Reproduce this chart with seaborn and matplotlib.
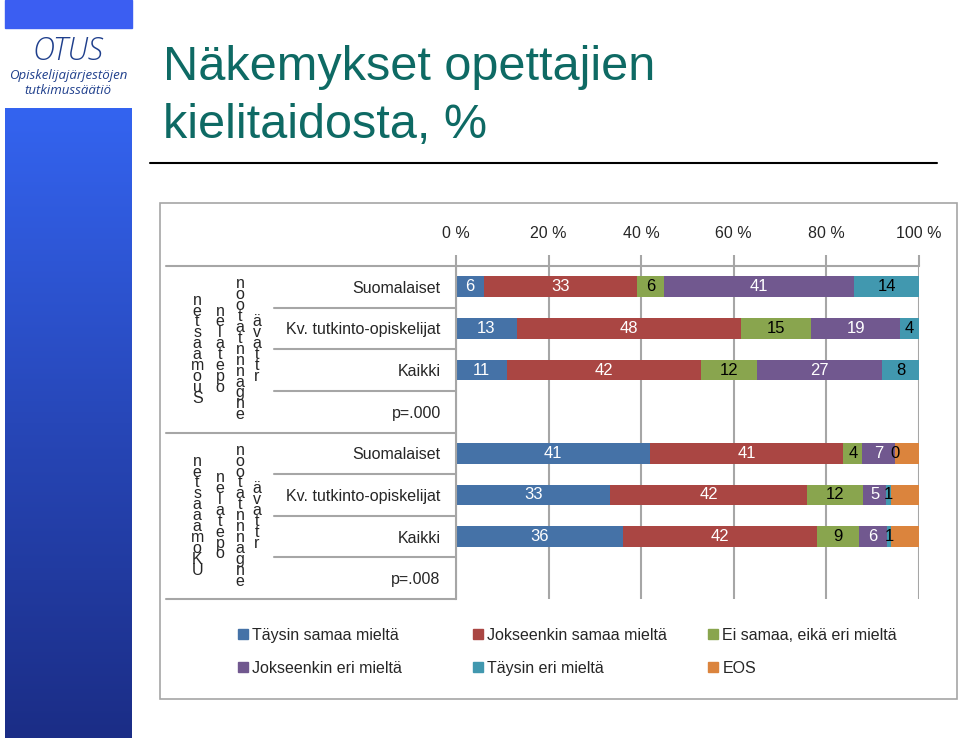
import numpy as np
import pandas as pd
import matplotlib.pyplot as plt
import matplotlib.patches as patches
from matplotlib.colors import LinearSegmentedColormap
import seaborn as sns

sns.set_theme(style="white")
plt.rcParams['font.family'] = ['Liberation Sans Narrow', 'Liberation Sans', 'DejaVu Sans']

# Data (prosentit luettu kuvasta)
rivit = ['Suomalaiset', 'Kv. tutkinto-opiskelijat', 'Kaikki', 'p=.000',
         'Suomalaiset', 'Kv. tutkinto-opiskelijat', 'Kaikki', 'p=.008']
vastaukset = ['Täysin samaa mieltä', 'Jokseenkin samaa mieltä', 'Ei samaa, eikä eri mieltä',
              'Jokseenkin eri mieltä', 'Täysin eri mieltä', 'EOS']
taysin_samaa = [6, 13, 11, 0, 41, 33, 36, 0]
jokseenkin_samaa = [33, 48, 42, 0, 41, 42, 42, 0]
ei_samaa_eika_eri = [6, 15, 12, 0, 4, 12, 9, 0]
jokseenkin_eri = [41, 19, 27, 0, 7, 5, 6, 0]
taysin_eri = [14, 4, 8, 0, 0, 1, 1, 0]
eos = [0, 0, 0, 0, 5, 6, 6, 0]
ryhmat = ['netsaamouS', 'netsaaamoKU']
ryhma_sarakkeet = ['nelatepo', 'nootatnnnagne', 'ävattr']
x_ticks = [0, 20, 40, 60, 80, 100]

varit = ['#4572A7', '#AA4643', '#89A54E', '#71588F', '#4198AF', '#DB843D']
tekstivarit = ['white', 'white', 'black', 'white', 'black', None]
harmaa = '#a6a6a6'

df = pd.DataFrame({'rivi': np.arange(len(rivit))})
sarjat = [taysin_samaa, jokseenkin_samaa, ei_samaa_eika_eri, jokseenkin_eri, taysin_eri, eos]
arvot = np.array(sarjat, dtype=float).T
summat = arvot.sum(axis=1, keepdims=True)
osuudet = np.divide(arvot * 100, summat, out=np.zeros_like(arvot), where=summat > 0)
kumul = np.cumsum(osuudet, axis=1)
for i in range(len(vastaukset)):
    df[f'k{i}'] = kumul[:, i]

fig = plt.figure(figsize=(9.6, 7.4), dpi=100)
W, H = 960, 740

# vasen sininen palkki ja logo
fig.patches.append(patches.Rectangle((5 / W, 1 - 28 / H), 127 / W, 28 / H,
                                     transform=fig.transFigure, color='#3b5ef2', zorder=0))
gax = fig.add_axes([5 / W, 2 / H, 127 / W, 630 / H])
cmap = LinearSegmentedColormap.from_list('raita', ['#3464f0', '#2747b8', '#1b2d86'])
gax.imshow(np.linspace(0, 1, 256).reshape(-1, 1), aspect='auto', cmap=cmap)
gax.axis('off')
fig.text(68 / W, 1 - 51 / H, 'OTUS', ha='center', va='center', fontsize=22,
         style='italic', color='#1f3f8c', family=['Open Sans', 'DejaVu Sans'], fontweight='light')
fig.text(68 / W, 1 - 76 / H, 'Opiskelijajärjestöjen', ha='center', va='center', fontsize=9.5,
         style='italic', color='#1f3f8c', family=['Open Sans', 'DejaVu Sans'])
fig.text(68 / W, 1 - 91 / H, 'tutkimussäätiö', ha='center', va='center', fontsize=9.5,
         style='italic', color='#1f3f8c', family=['Open Sans', 'DejaVu Sans'])

# otsikko
fig.text(163 / W, 1 - 67 / H, 'Näkemykset opettajien', fontsize=35, color='#0e6a64',
         va='center', family=['Liberation Sans', 'DejaVu Sans'])
fig.text(163 / W, 1 - 126 / H, 'kielitaidosta, %', fontsize=35, color='#0e6a64',
         va='center', family=['Liberation Sans', 'DejaVu Sans'])
fig.add_artist(plt.Line2D([150 / W, 937 / W], [1 - 163 / H, 1 - 163 / H], color='black', lw=1.5))

# kaavion kehys
fig.patches.append(patches.Rectangle((160 / W, 1 - 699 / H), 797 / W, 496 / H,
                                     transform=fig.transFigure, fill=False,
                                     edgecolor=harmaa, lw=1.2))

ax = fig.add_axes([456 / W, 141 / H, 463 / W, 333 / H])
for i in reversed(range(len(vastaukset))):
    sns.barplot(data=df, x=f'k{i}', y='rivi', orient='y', color=varit[i],
                width=0.5, saturation=1, linewidth=0, ax=ax, zorder=2)

# arvot palkkeihin
for r in range(len(rivit)):
    if summat[r, 0] == 0:
        continue
    alku = 0
    for i in range(len(vastaukset) - 1):
        keski = alku + osuudet[r, i] / 2
        ax.text(keski, r, str(sarjat[i][r]), ha='center', va='center', fontsize=12,
                color=tekstivarit[i], zorder=3)
        alku += osuudet[r, i]

ax.set_xlim(0, 100)
ax.set_ylim(len(rivit) - 0.5, -0.5)
ax.xaxis.tick_top()
ax.set_xticks(x_ticks)
ax.set_xticklabels([f'{t} %' for t in x_ticks], fontsize=11.5)
ax.set_yticks(range(len(rivit)))
ax.set_yticklabels(rivit, fontsize=11.5)
ax.tick_params(axis='x', top=True, length=8, width=1.5, color=harmaa, pad=10)
ax.tick_params(axis='y', length=0, pad=11)
ax.set_xlabel('')
ax.set_ylabel('')
ax.grid(axis='x', color=harmaa, lw=1.5)
ax.grid(axis='y', visible=False)
ax.set_axisbelow(True)
for s in ['right', 'bottom']:
    ax.spines[s].set_visible(False)
for s in ['top', 'left']:
    ax.spines[s].set_color(harmaa)
    ax.spines[s].set_linewidth(1.5)

# taulukon viivat vasemmalla
yt = ax.get_yaxis_transform()
for b in np.arange(-0.5, len(rivit), 1.0):
    x0 = -0.626 if b in (-0.5, 3.5, 7.5) else -0.393
    ax.plot([x0, 0], [b, b], color=harmaa, lw=1.5, transform=yt, clip_on=False)

sarake_x = [-0.559, -0.510, -0.4665, -0.430]
for g, keski in enumerate([1.5, 5.5]):
    tekstit = [ryhmat[g]] + ryhma_sarakkeet
    for xx, t in zip(sarake_x, tekstit):
        ax.text(xx, keski, '\n'.join(t), transform=yt, ha='center', va='center',
                fontsize=11.5, linespacing=0.66, clip_on=False)

# selite
kahvat = [patches.Patch(color=c) for c in varit]
for k, x0 in enumerate([238, 473, 708]):
    leg = fig.legend([kahvat[k], kahvat[k + 3]], [vastaukset[k], vastaukset[k + 3]],
                     loc='upper left', bbox_to_anchor=(x0 / W, 1 - 628 / H), frameon=False,
                     fontsize=11.5, handlelength=0.6, handleheight=0.6, handletextpad=0.3,
                     labelspacing=1.1, borderpad=0, borderaxespad=0)

fig.savefig('out.png', dpi=100)
